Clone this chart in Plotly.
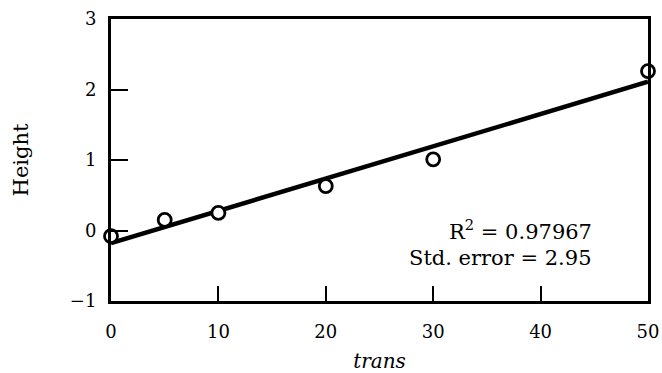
import plotly.graph_objects as go

# data points
trans = [0, 5, 10, 20, 30, 50]
height = [-0.08, 0.15, 0.25, 0.63, 1.01, 2.26]

# fitted line
fit_x = [0, 50]
fit_y = [-0.18, 2.11]

x_ticks = [0, 10, 20, 30, 40, 50]
y_ticks = [-1, 0, 1, 2, 3]

FONT = "DejaVu Serif"

fig = go.Figure()
fig.add_trace(go.Scatter(x=fit_x, y=fit_y, mode="lines",
                         line=dict(color="black", width=4.5), cliponaxis=False,
                         showlegend=False))
fig.add_trace(go.Scatter(x=trans, y=height, mode="markers",
                         marker=dict(symbol="circle", size=13, color="white",
                                     line=dict(color="black", width=2.8)),
                         cliponaxis=False, showlegend=False))

fig.add_annotation(x=0.90, y=0.253, xref="paper", yref="paper",
                   text="R<sup>2</sup> = 0.97967", showarrow=False,
                   xanchor="right", yanchor="middle",
                   font=dict(family=FONT, size=21, color="black"))
fig.add_annotation(x=0.90, y=0.152, xref="paper", yref="paper",
                   text="Std. error = 2.95", showarrow=False,
                   xanchor="right", yanchor="middle",
                   font=dict(family=FONT, size=21, color="black"))

fig.update_layout(
    width=662, height=373,
    margin=dict(l=111, r=14, t=19, b=72),
    paper_bgcolor="white", plot_bgcolor="white",
    font=dict(family=FONT, size=18, color="black"),
    xaxis=dict(range=[0, 50], tickvals=x_ticks, ticks="inside", ticklen=15,
               tickwidth=2, tickcolor="black", showline=True, linecolor="black",
               linewidth=3, mirror=True, showgrid=False, zeroline=False,
               ticklabelstandoff=12, automargin=False,
               title=dict(text="<i>trans</i>", standoff=14,
                         font=dict(family=FONT, size=20))),
    yaxis=dict(range=[-1, 3], tickvals=y_ticks, ticks="inside", ticklen=17,
               tickwidth=2, tickcolor="black", showline=True, linecolor="black",
               linewidth=3, mirror=True, showgrid=False, zeroline=False,
               ticklabelstandoff=8, automargin=False,
               title=dict(text="Height", standoff=36,
                         font=dict(family=FONT, size=21))),
)

fig.write_html("out.html")
